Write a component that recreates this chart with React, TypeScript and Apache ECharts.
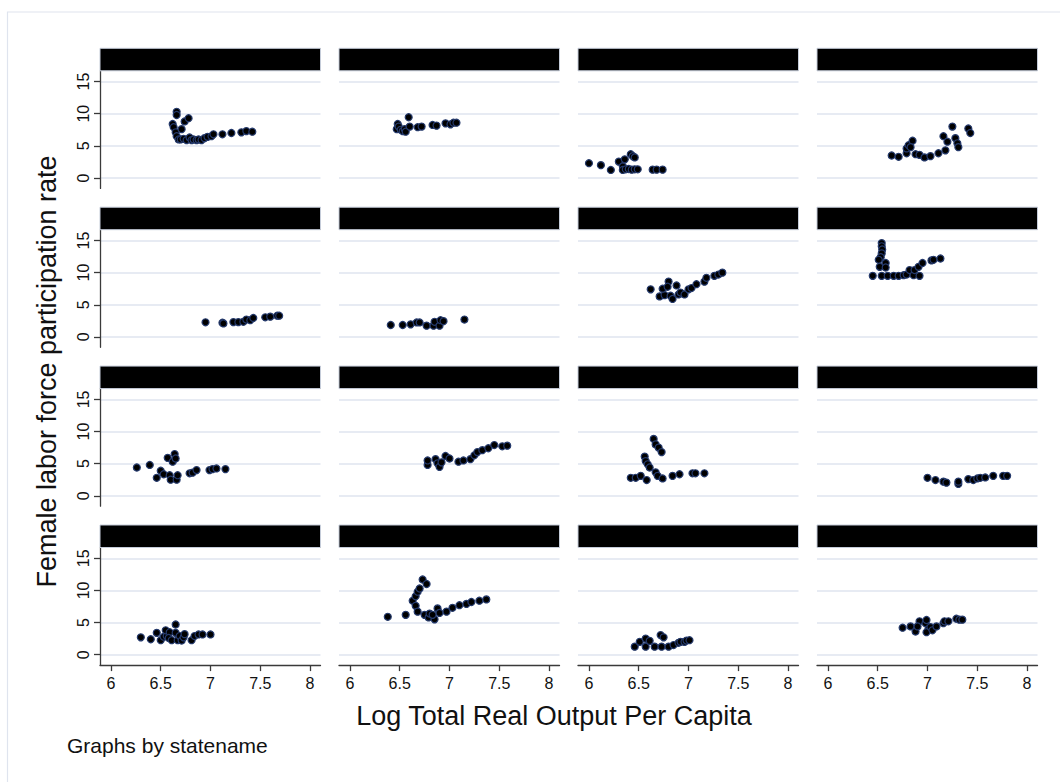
import { useEffect, useRef } from "react";
import * as echarts from "echarts";

// Axis ticks, ranges and titles
const yTicks = [0, 5, 10, 15];
const xTicks = [6, 6.5, 7, 7.5, 8];
const xRange = [5.89, 8.105];
const yRange = [-1.62, 16.68];
const xTitle = "Log Total Real Output Per Capita";
const yTitle = "Female labor force participation rate";
const note = "Graphs by statename";

// One array per state panel: [log real output per capita, female LFP rate]
const panel01: number[][] = [
  [6.66, 10.3], [6.66, 9.8], [6.62, 8.4], [6.63, 7.9], [6.65, 7.1], [6.66, 6.5],
  [6.68, 6.0], [6.71, 7.6], [6.74, 8.8], [6.78, 9.3], [6.7, 6.0], [6.73, 6.1],
  [6.76, 5.9], [6.79, 6.3], [6.81, 5.9], [6.83, 6.0], [6.86, 5.9], [6.88, 6.0],
  [6.91, 5.9], [6.94, 6.2], [6.97, 6.4], [7.01, 6.5], [7.03, 6.8], [7.12, 6.8],
  [7.21, 7.0], [7.31, 7.1], [7.36, 7.3], [7.42, 7.2],
];
const panel02: number[][] = [
  [6.59, 9.45], [6.48, 8.4], [6.47, 7.6], [6.49, 8.0], [6.51, 7.5], [6.53, 7.3],
  [6.55, 7.6], [6.56, 7.2], [6.6, 8.0], [6.68, 7.9], [6.72, 8.0], [6.83, 8.25],
  [6.87, 8.15], [6.96, 8.5], [7.01, 8.35], [7.04, 8.6], [7.07, 8.6],
];
const panel03: number[][] = [
  [6.0, 2.3], [6.12, 2.0], [6.22, 1.25], [6.3, 2.55], [6.36, 2.9], [6.42, 3.7],
  [6.44, 3.4], [6.46, 3.2], [6.34, 1.8], [6.34, 1.25], [6.37, 1.35], [6.4, 1.4],
  [6.43, 1.3], [6.46, 1.35], [6.49, 1.35], [6.64, 1.3], [6.68, 1.3], [6.74, 1.3],
];
const panel04: number[][] = [
  [6.64, 3.5], [6.71, 3.3], [6.79, 3.85], [6.79, 4.6], [6.81, 5.1], [6.85, 5.8],
  [6.83, 4.8], [6.88, 3.7], [6.92, 3.6], [6.97, 3.2], [7.03, 3.4], [7.11, 3.85],
  [7.18, 4.3], [7.16, 6.5], [7.2, 5.65], [7.25, 8.0], [7.28, 6.2], [7.3, 5.4],
  [7.31, 4.8], [7.41, 7.7], [7.43, 7.0],
];
const panel05: number[][] = [
  [6.95, 2.27], [7.12, 2.2], [7.13, 2.1], [7.23, 2.3], [7.28, 2.3], [7.33, 2.35],
  [7.36, 2.7], [7.4, 2.6], [7.43, 2.95], [7.55, 3.05], [7.6, 3.15], [7.67, 3.3],
  [7.69, 3.3],
];
const panel06: number[][] = [
  [6.41, 1.85], [6.53, 1.85], [6.61, 1.95], [6.67, 2.25], [6.7, 2.25], [6.77, 1.75],
  [6.84, 1.75], [6.85, 2.35], [6.9, 1.75], [6.91, 2.6], [6.94, 2.45], [7.15, 2.7],
];
const panel07: number[][] = [
  [6.62, 7.4], [6.71, 6.3], [6.76, 6.5], [6.74, 7.5], [6.8, 8.6], [6.79, 7.8],
  [6.82, 6.4], [6.84, 5.9], [6.88, 8.0], [6.9, 6.6], [6.92, 6.9], [6.96, 6.6],
  [7.0, 7.4], [7.03, 7.6], [7.08, 8.2], [7.16, 8.6], [7.18, 9.2], [7.26, 9.5],
  [7.3, 9.7], [7.34, 10.0],
];
const panel08: number[][] = [
  [6.54, 14.6], [6.54, 14.1], [6.545, 13.6], [6.54, 13.0], [6.53, 12.4], [6.51, 12.0],
  [6.52, 10.9], [6.58, 11.5], [6.58, 10.8], [6.45, 9.5], [6.54, 9.5], [6.6, 9.5],
  [6.66, 9.5], [6.71, 9.5], [6.76, 9.6], [6.79, 9.7], [6.82, 10.4], [6.86, 9.6],
  [6.87, 10.4], [6.91, 10.9], [6.92, 9.5], [6.95, 11.5], [7.04, 11.9], [7.06, 12.0],
  [7.13, 12.2],
];
const panel09: number[][] = [
  [6.26, 4.4], [6.39, 4.8], [6.46, 2.8], [6.5, 3.9], [6.53, 3.35], [6.57, 5.9],
  [6.59, 3.2], [6.6, 2.5], [6.62, 5.3], [6.64, 6.5], [6.65, 5.8], [6.66, 2.5],
  [6.67, 3.2], [6.79, 3.5], [6.82, 3.6], [6.86, 4.0], [6.99, 4.0], [7.02, 4.15],
  [7.06, 4.25], [7.15, 4.15],
];
const panel10: number[][] = [
  [6.78, 4.8], [6.78, 5.5], [6.86, 5.7], [6.88, 5.05], [6.9, 4.5], [6.92, 5.2],
  [6.96, 6.2], [7.0, 5.8], [7.09, 5.3], [7.14, 5.5], [7.21, 5.7], [7.25, 6.3],
  [7.28, 6.8], [7.33, 7.1], [7.39, 7.4], [7.45, 7.9], [7.53, 7.7], [7.58, 7.8],
];
const panel11: number[][] = [
  [6.42, 2.8], [6.47, 2.8], [6.52, 3.1], [6.58, 2.45], [6.56, 6.1], [6.57, 5.4],
  [6.59, 4.9], [6.61, 4.4], [6.65, 8.85], [6.67, 8.0], [6.7, 7.5], [6.73, 6.8],
  [6.67, 3.65], [6.69, 3.1], [6.74, 2.7], [6.84, 3.1], [6.91, 3.35], [7.04, 3.5],
  [7.07, 3.5], [7.16, 3.5],
];
const panel12: number[][] = [
  [7.0, 2.8], [7.08, 2.45], [7.16, 2.2], [7.19, 2.05], [7.31, 1.85], [7.31, 2.2],
  [7.41, 2.6], [7.46, 2.45], [7.5, 2.7], [7.53, 2.8], [7.58, 2.85], [7.66, 3.1],
  [7.76, 3.1], [7.8, 3.1],
];
const panel13: number[][] = [
  [6.3, 2.7], [6.4, 2.4], [6.46, 3.4], [6.5, 2.25], [6.53, 2.8], [6.56, 2.9],
  [6.55, 3.8], [6.59, 3.5], [6.58, 2.6], [6.61, 2.25], [6.65, 4.7], [6.65, 3.4],
  [6.67, 2.25], [6.69, 2.9], [6.71, 2.2], [6.73, 2.7], [6.74, 3.2], [6.81, 2.25],
  [6.84, 2.9], [6.88, 3.15], [6.92, 3.15], [7.0, 3.15],
];
const panel14: number[][] = [
  [6.38, 5.9], [6.56, 6.2], [6.63, 8.4], [6.66, 9.1], [6.68, 9.8], [6.7, 10.3],
  [6.73, 11.7], [6.77, 11.0], [6.66, 7.6], [6.68, 6.7], [6.75, 6.2], [6.79, 5.8],
  [6.8, 6.4], [6.85, 5.5], [6.83, 6.2], [6.88, 7.2], [6.9, 6.5], [6.97, 6.7],
  [7.03, 7.3], [7.1, 7.7], [7.17, 7.9], [7.22, 8.2], [7.3, 8.4], [7.37, 8.6],
];
const panel15: number[][] = [
  [6.46, 1.25], [6.51, 2.0], [6.57, 1.25], [6.57, 2.5], [6.61, 2.15], [6.66, 1.25],
  [6.72, 3.05], [6.75, 2.7], [6.73, 1.25], [6.8, 1.25], [6.85, 1.5], [6.9, 1.85],
  [6.92, 2.0], [6.96, 2.0], [6.98, 2.2], [7.01, 2.25],
];
const panel16: number[][] = [
  [6.75, 4.2], [6.83, 4.4], [6.88, 3.6], [6.92, 5.2], [6.9, 4.4], [6.98, 4.9],
  [6.99, 5.4], [7.01, 4.0], [6.99, 3.5], [7.03, 4.3], [7.05, 3.8], [7.09, 4.4],
  [7.16, 4.9], [7.17, 5.2], [7.21, 5.2], [7.29, 5.6], [7.32, 5.45], [7.35, 5.45],
];

const panels = [
  panel01, panel02, panel03, panel04,
  panel05, panel06, panel07, panel08,
  panel09, panel10, panel11, panel12,
  panel13, panel14, panel15, panel16,
];

// Small-multiple layout (pixels)
const COLS = 4;
const ROWS = 4;
const PANEL_LEFT = 100;
const PANEL_STEP_X = 239;
const PANEL_W = 220.5;
const STRIP_TOP = 48.3;
const PANEL_STEP_Y = 158.9;
const STRIP_H = 22.5;
const PLOT_H = 117.6;

const FONT = "'Liberation Sans', Arial, Helvetica, sans-serif";
const GRID_COLOR = "#dfe5ef";
const AXIS_COLOR = "#3a3a3a";

export default function App() {
  const ref = useRef<HTMLDivElement>(null);

  useEffect(() => {
    if (!ref.current) return;
    const chart = echarts.init(ref.current, null, { renderer: "svg" });

    const grids: any[] = [];
    const xAxes: any[] = [];
    const yAxes: any[] = [];
    const series: any[] = [];
    const graphics: any[] = [];

    graphics.push({
      type: "rect",
      shape: { x: 7.5, y: 12, width: 1100, height: 820 },
      style: { fill: "none", stroke: "#dfe4ee", lineWidth: 1.2 },
      silent: true,
      z: 0,
    });

    panels.forEach((data, i) => {
      const r = Math.floor(i / COLS);
      const c = i % COLS;
      const left = PANEL_LEFT + c * PANEL_STEP_X;
      const stripTop = STRIP_TOP + r * PANEL_STEP_Y;
      const top = stripTop + STRIP_H;
      const firstCol = c === 0;
      const lastRow = r === ROWS - 1;

      grids.push({
        left,
        top,
        width: PANEL_W,
        height: PLOT_H,
        outerBoundsMode: "none",
        containLabel: false,
      });

      graphics.push({
        type: "rect",
        shape: { x: left, y: stripTop, width: PANEL_W, height: STRIP_H },
        style: { fill: "#000000", stroke: "#c5ccd9", lineWidth: 1 },
        silent: true,
        z: 10,
      });

      xAxes.push({
        type: "value",
        gridIndex: i,
        min: xRange[0],
        max: xRange[1],
        axisLine: { show: lastRow, onZero: false, lineStyle: { color: AXIS_COLOR, width: 1.3 } },
        axisTick: {
          show: lastRow,
          length: 6,
          customValues: xTicks,
          lineStyle: { color: AXIS_COLOR, width: 1.3 },
        },
        axisLabel: {
          show: lastRow,
          customValues: xTicks,
          margin: 10,
          fontSize: 16,
          fontFamily: FONT,
          color: "#111",
        },
        splitLine: { show: false },
      });

      yAxes.push({
        type: "value",
        gridIndex: i,
        min: yRange[0],
        max: yRange[1],
        axisLine: { show: firstCol, onZero: false, lineStyle: { color: AXIS_COLOR, width: 1.3 } },
        axisTick: {
          show: firstCol,
          length: 6,
          customValues: yTicks,
          lineStyle: { color: AXIS_COLOR, width: 1.3 },
        },
        axisLabel: {
          show: firstCol,
          customValues: yTicks,
          rotate: 90,
          margin: 9,
          fontSize: 16,
          fontFamily: FONT,
          color: "#111",
        },
        splitLine: { show: true, lineStyle: { color: GRID_COLOR, width: 1.5 } },
      });

      series.push({
        type: "scatter",
        xAxisIndex: i,
        yAxisIndex: i,
        data,
        symbol: "circle",
        symbolSize: 7,
        itemStyle: { color: "#000000", borderColor: "#24396b", borderWidth: 1.2, opacity: 1 },
        silent: true,
      });
    });

    graphics.push(
      {
        type: "text",
        x: 47,
        y: 371.5,
        rotation: Math.PI / 2,
        style: {
          text: yTitle,
          font: `27px ${FONT}`,
          fill: "#111",
          align: "center",
          verticalAlign: "middle",
        },
        z: 20,
      },
      {
        type: "text",
        x: 554,
        y: 716,
        style: {
          text: xTitle,
          font: `27px ${FONT}`,
          fill: "#111",
          align: "center",
          verticalAlign: "middle",
        },
        z: 20,
      },
      {
        type: "text",
        x: 67,
        y: 745,
        style: {
          text: note,
          font: `21px ${FONT}`,
          fill: "#111",
          align: "left",
          verticalAlign: "middle",
        },
        z: 20,
      }
    );

    chart.setOption({
      animation: false,
      backgroundColor: "#ffffff",
      grid: grids,
      xAxis: xAxes,
      yAxis: yAxes,
      series,
      graphic: { elements: graphics },
    });

    return () => chart.dispose();
  }, []);

  return (
    <div
      ref={ref}
      style={{ position: "fixed", left: 0, top: 0, width: 1060, height: 782 }}
    />
  );
}
